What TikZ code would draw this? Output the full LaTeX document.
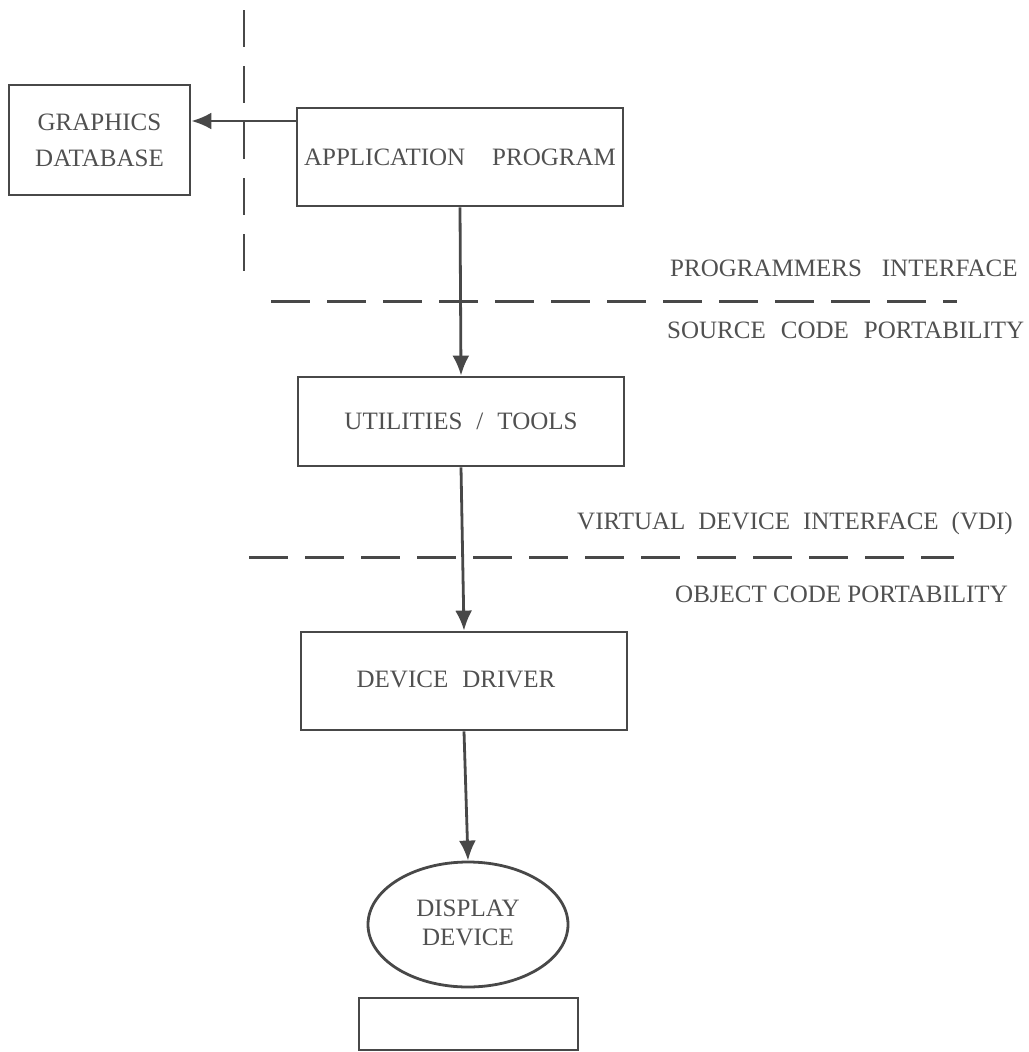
\documentclass[tikz,border=0pt]{standalone}
\usepackage{fontspec}
\setmainfont{Liberation Serif}
\usetikzlibrary{arrows.meta,shapes.geometric}
\definecolor{ink}{HTML}{484848}
\definecolor{txt}{HTML}{505050}
\begin{document}
\begin{tikzpicture}[x=1pt,y=-1pt,
  every node/.style={font=\fontsize{25}{30}\selectfont, text=txt},
  box/.style={draw=ink, line width=2.8pt, inner sep=0pt, align=center},
  oval/.style={draw=ink, line width=2.8pt, ellipse, inner sep=0pt, align=center},
  arr/.style={draw=ink, line width=2.8pt, -{Latex[length=20pt,width=17pt]}},
  sep/.style={draw=ink, line width=3pt, dash pattern=on 39pt off 17pt},
  vsep/.style={draw=ink, line width=2.8pt, dash pattern=on 37pt off 19pt},
  lbl/.style={anchor=west, inner sep=0pt}]
\useasboundingbox (0,0) rectangle (1028,1052);
% boxes
\node[box, minimum width=181pt, minimum height=110pt] (gdb) at (99.5,140) {\raisebox{2pt}{GRAPHICS}\\[4pt]DATABASE};
\node[box, minimum width=326pt, minimum height=98pt] (app) at (460,157) {APPLICATION\hspace{27pt}PROGRAM};
\node[box, minimum width=326pt, minimum height=89pt] (util) at (461,421.5) {UTILITIES\hspace{14pt}/\hspace{14pt}TOOLS};
\node[box, minimum width=326pt, minimum height=98pt] (drv) at (464,681) {\raisebox{3pt}{DEVICE\hspace{14pt}DRIVER}\hspace{16pt}};
\node[oval, minimum width=200pt, minimum height=125pt] (disp) at (468,924.5) {\raisebox{6pt}{\begin{tabular}{@{}c@{}}DISPLAY\\[-1pt]DEVICE\end{tabular}}};
\node[box, minimum width=219pt, minimum height=52pt] (base) at (468.5,1024) {};
% separators
\draw[vsep] (244,10) -- (244,289);
\draw[sep] (271,301) -- (957,301);
\draw[sep] (249,557) -- (954,557);
% labels
\node[lbl] (l1) at (670,268) {PROGRAMMERS\hspace{20pt}INTERFACE};
\node[lbl] (l2) at (667,330) {SOURCE\hspace{15pt}CODE\hspace{15pt}PORTABILITY};
\node[lbl] (l3) at (577,523) {VIRTUAL\hspace{13pt}DEVICE\hspace{13pt}INTERFACE\hspace{13pt}(VDI)};
\node[lbl] (l4) at (675,594) {OBJECT CODE PORTABILITY};
% connectors
\coordinate (a1) at ([yshift=36pt]app.west);
\draw[arr] (a1) -- (a1 -| gdb.east);
\draw[arr] (app.south) -- (util.north);
\draw[arr] (util.south) -- (drv.north);
\draw[arr] (drv.south) -- (disp.north);
\end{tikzpicture}
\end{document}
